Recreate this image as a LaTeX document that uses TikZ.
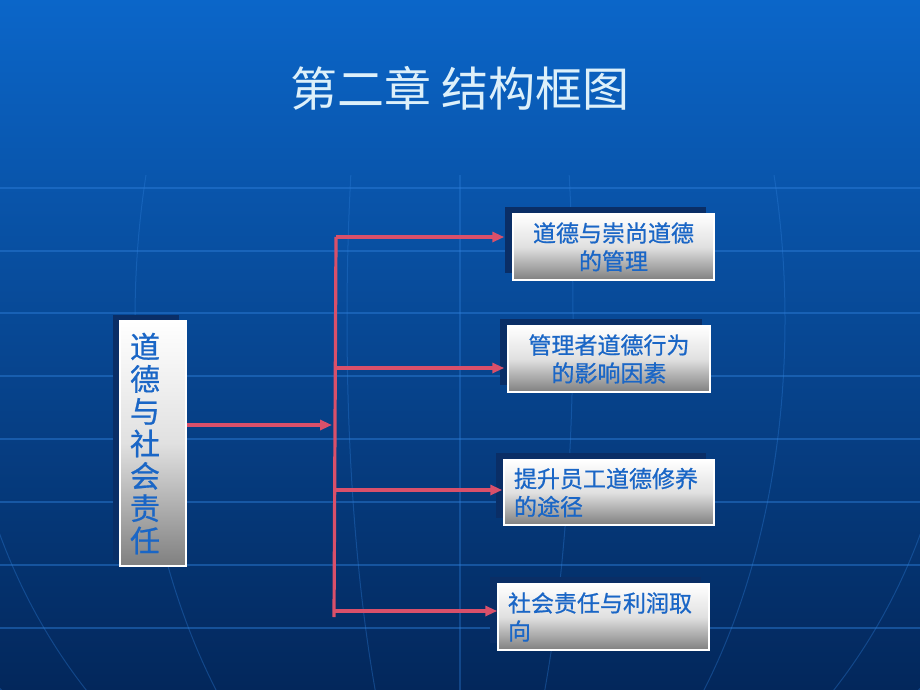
\documentclass[tikz,border=0pt]{standalone}
\usepackage{fontspec}
\newfontfamily\cjk{Noto Sans CJK SC}
\newfontfamily\cjkm[FakeBold=0.8]{Noto Sans CJK SC}
\usetikzlibrary{arrows.meta}
\definecolor{bgtop}{HTML}{0B66C9}
\definecolor{bgmid}{HTML}{0A4A9C}
\definecolor{bgbot}{HTML}{03275B}
\definecolor{gridc}{HTML}{2E7FDA}
\definecolor{linkc}{HTML}{D9506A}
\definecolor{txtc}{HTML}{1A66C6}
\definecolor{titlec}{HTML}{DDF0FA}
\definecolor{shadowc}{HTML}{0A2E66}
\begin{document}
\begin{tikzpicture}[x=1pt,y=-1pt,
  box/.style={draw=white,line width=1.5pt,top color=white,bottom color=black!50,middle color=black!12,
    text=txtc,font=\cjkm\fontsize{23}{28}\selectfont,inner sep=0pt},
  shadowbox/.style={fill=shadowc,inner sep=0pt},
  gridline/.style={draw=gridc,line width=1.2pt,opacity=0.45},
  link/.style={draw=linkc,line width=3.2pt},
  arr/.style={link,-{Triangle[length=12pt,width=10pt]},shorten >=3pt}]
\useasboundingbox (0,0) rectangle (920,690);
% background
\shade[top color=bgtop,middle color=bgmid,bottom color=bgbot] (0,0) rectangle (920,690);
\foreach \yy in {188,251,313,376,439,502,565,628}
  \draw[gridline] (0,\yy) -- (920,\yy);
\begin{scope}
  \clip (0,175) rectangle (920,690);
  \draw[gridline,opacity=0.35] (460,175) -- (460,690);
  \foreach \rr in {113,325,498,611,700}
    \draw[gridline,line width=1pt,opacity=0.35] (460,320) ellipse [x radius=\rr, y radius=560];
\end{scope}
% title
\node[font=\cjk\fontsize{47}{47}\selectfont,text=titlec] (title) at (460,88) {第二章 结构框图};
% left box
\node[shadowbox,minimum width=66pt,minimum height=245pt] (s0) at (146,437) {};
\node[box,font=\cjkm\fontsize{30}{32.3}\selectfont,text width=46pt,inner xsep=10pt,
  minimum height=245pt,align=left] (L) at (153,443.5) {道\\德\\与\\社\\会\\责\\任};
% right boxes
\node[shadowbox,minimum width=201pt,minimum height=66pt] (s1) at (605.5,240) {};
\node[box,minimum width=201pt,minimum height=66pt,align=center] (b1) at (613.5,247) {道德与崇尚道德\\的管理};
\node[shadowbox,minimum width=202pt,minimum height=66pt] (s2) at (601,352) {};
\node[box,minimum width=202pt,minimum height=66pt,align=center] (b2) at (609,359) {管理者道德行为\\的影响因素};
\node[shadowbox,minimum width=210pt,minimum height=65pt] (s3) at (601,485.5) {};
\node[box,text width=190pt,inner xsep=10pt,minimum height=65pt,align=left] (b3) at (609,492.5) {提升员工道德修养\\的途径};
\node[shadowbox,minimum width=211pt,minimum height=66pt] (s4) at (595.5,610) {};
\node[box,text width=191pt,inner xsep=10pt,minimum height=66pt,align=left] (b4) at (603.5,617) {社会责任与利润取\\向};
% connectors
\coordinate (j0) at (335,425);
\coordinate (j1) at (336,237);
\coordinate (j2) at (335.5,368);
\coordinate (j3) at (334.5,490);
\coordinate (j4) at (334,611);
\coordinate (jb) at (334,617);
\draw[link] (j1) -- (jb);
\draw[arr] (L.east |- j0) -- (j0);
\draw[arr,shorten >=8pt] (j1) -- (j1 -| b1.west);
\draw[arr] (j2) -- (j2 -| b2.west);
\draw[arr,shorten >=1pt] (j3) -- (j3 -| b3.west);
\draw[arr,shorten >=0pt] (j4) -- (j4 -| b4.west);
\end{tikzpicture}
\end{document}
